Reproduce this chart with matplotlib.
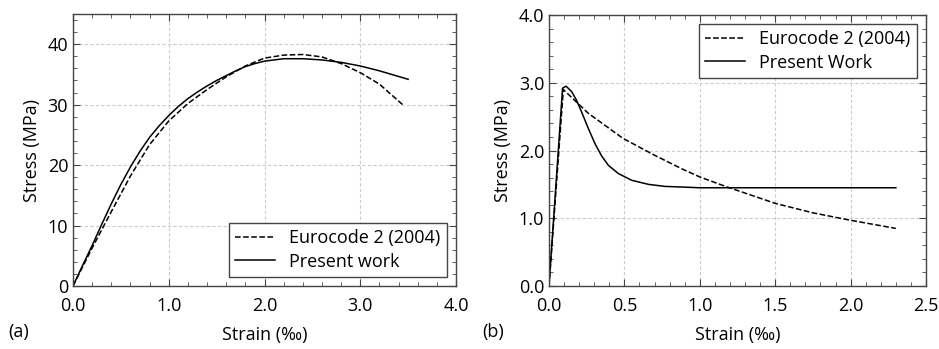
import numpy as np
import matplotlib.pyplot as plt
from matplotlib.ticker import MultipleLocator

plt.rcParams['font.family'] = ['Open Sans', 'DejaVu Sans']

# (a) compression
strain_a_ec = [0.0, 0.2, 0.4, 0.6, 0.8, 1.0, 1.2, 1.4, 1.6, 1.8, 2.0, 2.2, 2.4,
               2.6, 2.8, 3.0, 3.2, 3.45]
stress_a_ec = [0.0, 6.3, 12.3, 18.2, 23.4, 27.3, 30.2, 32.5, 34.6, 36.4, 37.7,
               38.2, 38.3, 37.9, 36.8, 35.3, 33.4, 29.9]
strain_a_pw = [0.0, 0.1, 0.2, 0.3, 0.4, 0.5, 0.6, 0.7, 0.8, 0.9, 1.0, 1.1, 1.2,
               1.3, 1.4, 1.5, 1.6, 1.7, 1.8, 1.9, 2.0, 2.2, 2.4, 2.6, 2.8,
               3.0, 3.2, 3.5]
stress_a_pw = [0.0, 3.4, 6.7, 10.2, 13.6, 16.8, 19.7, 22.3, 24.6, 26.5, 28.2,
               29.7, 31.0, 32.1, 33.1, 34.0, 34.8, 35.6, 36.3, 36.8, 37.2,
               37.6, 37.6, 37.4, 37.0, 36.4, 35.6, 34.2]

# (b) tension
strain_b_ec = [0.0, 0.095, 0.128, 0.26, 0.49, 0.70, 0.89, 1.0, 1.17, 1.5,
               1.75, 2.0, 2.3]
stress_b_ec = [0.0, 2.9, 2.83, 2.55, 2.18, 1.93, 1.72, 1.61, 1.47, 1.22,
               1.08, 0.97, 0.85]
strain_b_pw = [0.0, 0.09, 0.113, 0.15, 0.183, 0.216, 0.26, 0.305, 0.349,
               0.394, 0.46, 0.549, 0.66, 0.77, 0.89, 1.0, 1.5, 2.0, 2.3]
stress_b_pw = [0.0, 2.92, 2.95, 2.87, 2.74, 2.57, 2.33, 2.10, 1.92, 1.78,
               1.66, 1.56, 1.50, 1.47, 1.46, 1.45, 1.45, 1.45, 1.45]

fig = plt.figure(figsize=(9.39, 3.49), dpi=100)
ax1 = fig.add_axes([73/939, 1-286/349, 383/939, 272/349])
ax2 = fig.add_axes([549/939, 1-286/349, 377/939, 271/349])

spine_col = '#444444'
fs = 13


def style(ax):
    ax.grid(True, which='major', color='#cccccc', linestyle=(0, (3, 2)), lw=0.8)
    ax.set_axisbelow(True)
    ax.tick_params(which='both', direction='in', top=True, right=True,
                   colors=spine_col, labelcolor='black', labelsize=fs)
    ax.tick_params(which='major', length=5)
    ax.tick_params(which='minor', length=3)
    ax.tick_params(axis='x', pad=8)
    for s in ax.spines.values():
        s.set_color(spine_col)
        s.set_linewidth(1.0)
    ax.set_xlabel('Strain (‰)', fontsize=fs, labelpad=8)
    ax.set_ylabel('Stress (MPa)', fontsize=fs, labelpad=5)


ax1.plot(strain_a_ec, stress_a_ec, 'k--', lw=1.1, label='Eurocode 2 (2004)')
ax1.plot(strain_a_pw, stress_a_pw, 'k-', lw=1.1, label='Present work')
ax1.set_xlim(0, 4)
ax1.set_ylim(0, 45)
ax1.xaxis.set_major_locator(MultipleLocator(1))
ax1.xaxis.set_minor_locator(MultipleLocator(0.2))
ax1.yaxis.set_major_locator(MultipleLocator(10))
ax1.yaxis.set_minor_locator(MultipleLocator(2))
ax1.xaxis.set_major_formatter(lambda v, p: f'{v:.1f}')
style(ax1)
leg1 = ax1.legend(loc='lower right', fontsize=fs, fancybox=False,
                  edgecolor=spine_col, framealpha=1, borderaxespad=0.5,
                  handlelength=2.2, borderpad=0.35, labelspacing=0.3)
leg1.get_frame().set_linewidth(1.0)

ax2.plot(strain_b_ec, stress_b_ec, 'k--', lw=1.1, label='Eurocode 2 (2004)')
ax2.plot(strain_b_pw, stress_b_pw, 'k-', lw=1.1, label='Present Work')
ax2.set_xlim(0, 2.5)
ax2.set_ylim(0, 4)
ax2.xaxis.set_major_locator(MultipleLocator(0.5))
ax2.xaxis.set_minor_locator(MultipleLocator(0.1))
ax2.yaxis.set_major_locator(MultipleLocator(1))
ax2.yaxis.set_minor_locator(MultipleLocator(0.2))
ax2.xaxis.set_major_formatter(lambda v, p: f'{v:.1f}')
ax2.yaxis.set_major_formatter(lambda v, p: f'{v:.1f}')
style(ax2)
leg2 = ax2.legend(loc='upper right', fontsize=fs, fancybox=False,
                  edgecolor=spine_col, framealpha=1, borderaxespad=0.5,
                  handlelength=2.2, borderpad=0.35, labelspacing=0.3)
leg2.get_frame().set_linewidth(1.0)

fig.text(8/939, 1-332/349, '(a)', fontsize=fs, va='center')
fig.text(482/939, 1-332/349, '(b)', fontsize=fs, va='center')

fig.savefig('out.png', dpi=100)
